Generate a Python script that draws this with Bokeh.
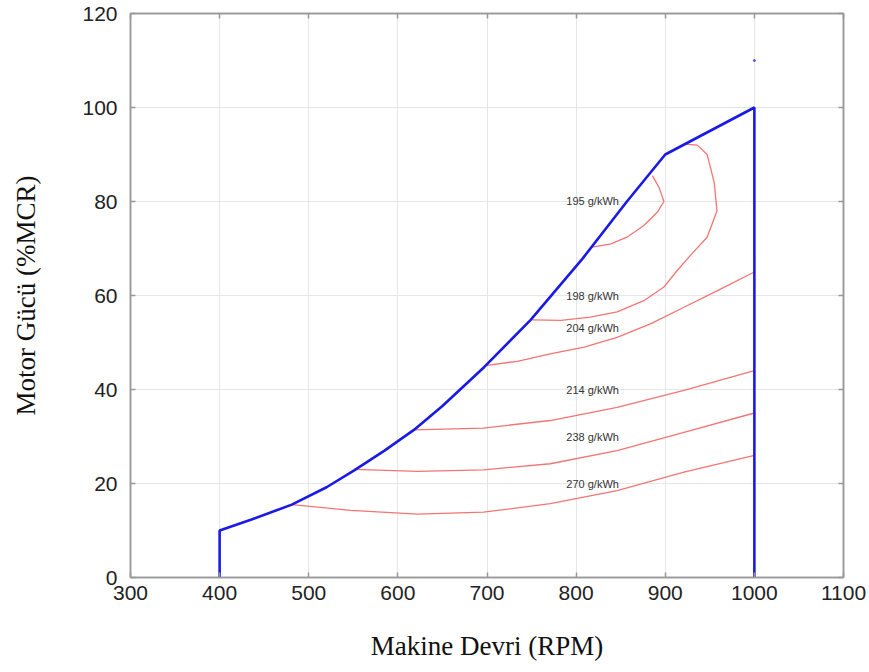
from bokeh.plotting import figure
from bokeh.models import Range1d, LinearAxis, FixedTicker
from bokeh.core.properties import value
from bokeh.embed import file_html
from bokeh.resources import INLINE

x_ticks = [300, 400, 500, 600, 700, 800, 900, 1000, 1100]
y_ticks = [0, 20, 40, 60, 80, 100, 120]

# engine operating envelope (blue)
env_rpm = [400, 400, 435, 481, 520, 551, 585, 618, 650, 697, 749, 807, 857, 900, 1000, 1000]
env_pow = [0, 10, 12.3, 15.5, 19.2, 22.8, 27, 31.4, 36.5, 44.8, 54.8, 67.8, 80, 90, 100, 0]

# SFOC contours (red)
c195_rpm = [818, 839, 857, 876, 891, 898.5, 893, 885.5]
c195_pow = [70.3, 71, 72.4, 74.9, 77.7, 80, 83, 85.5]

c198_rpm = [751, 783, 816, 846, 876, 898.5, 912, 929, 947, 958, 955, 947, 936, 922]
c198_pow = [54.8, 54.7, 55.4, 56.5, 58.9, 61.8, 65, 68.7, 72.4, 78, 84, 90, 92, 92.2]

c204_rpm = [698, 734, 771, 809, 846, 884, 921, 958, 1000]
c204_pow = [45.1, 46, 47.6, 49, 51.1, 54, 57.5, 61, 65]

c214_rpm = [618, 696, 771, 846, 921, 1000]
c214_pow = [31.4, 31.8, 33.4, 36.2, 39.8, 44]

c238_rpm = [551, 622, 696, 771, 846, 921, 1000]
c238_pow = [23, 22.6, 22.9, 24.2, 27, 30.9, 35]

c270_rpm = [481, 547, 622, 696, 771, 846, 921, 1000]
c270_pow = [15.5, 14.3, 13.5, 13.9, 15.7, 18.5, 22.4, 26]

label_text = ["195 g/kWh", "198 g/kWh", "204 g/kWh", "214 g/kWh", "238 g/kWh", "270 g/kWh"]
label_rpm = [789, 789, 789, 789, 789, 789]
label_pow = [80.2, 60, 53, 40, 30, 20]

marker_rpm = [1000]
marker_pow = [110]

p = figure(width=866, height=670, output_backend="svg", toolbar_location=None,
           x_range=Range1d(300, 1100), y_range=Range1d(0, 120),
           min_border_left=130, min_border_right=23, min_border_top=13, min_border_bottom=93)
p.background_fill_color = "white"
p.border_fill_color = "white"
p.outline_line_color = "#999999"
p.outline_line_width = 1.5

for ax in (p.xaxis[0], p.yaxis[0]):
    ax.major_tick_in = 5
    ax.major_tick_out = 0
    ax.minor_tick_in = 0
    ax.minor_tick_out = 0
    ax.axis_line_color = "#999999"
    ax.axis_line_width = 1.5
    ax.major_tick_line_color = "#999999"
    ax.major_tick_line_width = 1.5
    ax.major_label_text_font = "Liberation Sans"
    ax.major_label_text_font_size = "21px"
    ax.major_label_text_color = "#222222"
    ax.axis_label_text_font = "Liberation Serif"
    ax.axis_label_text_font_size = "27px"
    ax.axis_label_text_font_style = "normal"
    ax.axis_label_text_color = "#111111"

p.xaxis[0].ticker = FixedTicker(ticks=x_ticks)
p.yaxis[0].ticker = FixedTicker(ticks=y_ticks)
p.xaxis[0].axis_label = "Makine Devri (RPM)"
p.yaxis[0].axis_label = "Motor Gücü (%MCR)"
p.xaxis[0].major_label_standoff = 8
p.xaxis[0].axis_label_standoff = 28
p.yaxis[0].major_label_standoff = 13
p.yaxis[0].axis_label_standoff = 38

# mirrored axes (ticks only, no labels)
top = LinearAxis(ticker=FixedTicker(ticks=x_ticks),
                 major_label_overrides={t: "" for t in x_ticks})
right = LinearAxis(ticker=FixedTicker(ticks=y_ticks),
                   major_label_overrides={t: "" for t in y_ticks})
for ax in (top, right):
    ax.major_tick_in = 5
    ax.major_tick_out = 0
    ax.minor_tick_in = 0
    ax.minor_tick_out = 0
    ax.axis_line_color = "#999999"
    ax.axis_line_width = 1.5
    ax.major_tick_line_color = "#999999"
    ax.major_tick_line_width = 1.5
    ax.major_label_standoff = 0
p.add_layout(top, "above")
p.add_layout(right, "right")

p.xgrid.ticker = FixedTicker(ticks=x_ticks)
p.ygrid.ticker = FixedTicker(ticks=y_ticks)
p.xgrid.grid_line_color = "#e6e6e6"
p.ygrid.grid_line_color = "#e6e6e6"
p.xgrid.grid_line_width = 1
p.ygrid.grid_line_width = 1

red = "#f47474"
for xs, ys in [(c195_rpm, c195_pow), (c198_rpm, c198_pow), (c204_rpm, c204_pow),
               (c214_rpm, c214_pow), (c238_rpm, c238_pow), (c270_rpm, c270_pow)]:
    p.line(xs, ys, line_color=red, line_width=1.3)

p.line(env_rpm, env_pow, line_color="#1a1ae6", line_width=2.6)
p.scatter(marker_rpm, marker_pow, size=2, color="#4a4af0")

p.text(x=label_rpm, y=label_pow, text=label_text, text_font=value("Liberation Sans"),
       text_font_size="11px", text_color="#333333", text_align="left",
       text_baseline="middle")

open("out.html", "w").write(file_html(p, INLINE))
